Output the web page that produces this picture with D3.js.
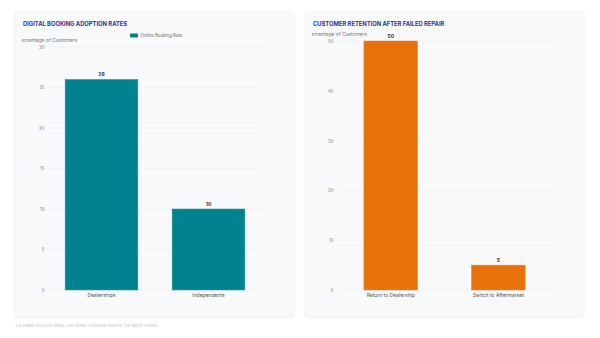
<!DOCTYPE html>
<html>
<head>
<meta charset="utf-8">
<script src="https://cdn.jsdelivr.net/npm/d3@7"></script>
<style>
  body { margin: 0; background: #fff; font-family: Inter, "Noto Sans", sans-serif; }
  svg { display: block; }
</style>
</head>
<body>
<svg id="svg" width="600" height="338"></svg>
<script>
// data
var bookingCats = ["Dealerships", "Independents"],
    bookingVals = [26, 10],
    bookingTicks = [0, 5, 10, 15, 20, 25, 30];

var retentionCats = ["Return to Dealership", "Switch to Aftermarket"],
    retentionVals = [50, 5],
    retentionTicks = [0, 10, 20, 30, 40, 50];

var svg = d3.select("#svg");

var defs = svg.append("defs");
var sh = defs.append("filter").attr("id", "shadow").attr("x", "-5%").attr("y", "-5%").attr("width", "110%").attr("height", "110%");
sh.append("feDropShadow").attr("dx", 0).attr("dy", 0.5).attr("stdDeviation", 0.8).attr("flood-color", "#000").attr("flood-opacity", 0.08);

function panel(opt) {
  var g = svg.append("g");

  // card
  g.append("rect")
    .attr("x", opt.x).attr("y", 12)
    .attr("width", 279).attr("height", 305)
    .attr("rx", 4)
    .attr("fill", "#f8f9fb")
    .attr("stroke", "#eef0f3")
    .attr("stroke-width", 0.6)
    .attr("filter", "url(#shadow)");

  g.append("text")
    .attr("x", opt.x + 8).attr("y", 25.5)
    .attr("font-size", 5.8).attr("font-weight", 700)
    .attr("fill", "#33358a")
    .text(opt.title);

  // y axis title sits partly outside the plot and gets clipped on the left
  var clipId = "clip" + opt.x;
  defs.append("clipPath").attr("id", clipId)
    .append("rect").attr("x", opt.x + 7).attr("y", 0).attr("width", 270).attr("height", 338);

  g.append("text")
    .attr("clip-path", "url(#" + clipId + ")")
    .attr("x", opt.titleEnd).attr("y", opt.axisTitleY)
    .attr("text-anchor", "end")
    .attr("font-size", 4.9)
    .attr("fill", "#777")
    .text("Percentage of Customers");

  var x = d3.scaleBand().domain(opt.cats).range([opt.x0, opt.x1])
    .paddingInner(opt.pad).paddingOuter(opt.pad / 2);
  var y = d3.scaleLinear().domain([0, d3.max(opt.ticks)]).range([290, opt.yTop]);

  // grid
  g.selectAll(".grid").data(opt.ticks).enter().append("line")
    .attr("x1", opt.x0).attr("x2", opt.x1)
    .attr("y1", function(d) { return y(d); })
    .attr("y2", function(d) { return y(d); })
    .attr("stroke", "#e9ebef").attr("stroke-width", 0.5);

  var yAxis = g.append("g")
    .attr("transform", "translate(" + opt.x0 + ",0)")
    .call(d3.axisLeft(y).tickValues(opt.ticks).tickSize(0).tickPadding(3.5));
  yAxis.select(".domain").remove();
  yAxis.selectAll("text").attr("font-size", 4.4).attr("fill", "#777").attr("font-family", "Inter, sans-serif");

  g.selectAll(".bar").data(opt.vals).enter().append("rect")
    .attr("x", function(d, i) { return x(opt.cats[i]); })
    .attr("y", function(d) { return y(d); })
    .attr("width", x.bandwidth())
    .attr("height", function(d) { return 290 - y(d); })
    .attr("fill", opt.color)
    .attr("stroke", opt.edge).attr("stroke-width", 0.5);

  g.selectAll(".val").data(opt.vals).enter().append("text")
    .attr("x", function(d, i) { return x(opt.cats[i]) + x.bandwidth() / 2; })
    .attr("y", function(d) { return y(d) - 3; })
    .attr("text-anchor", "middle")
    .attr("font-size", 5).attr("font-weight", 700)
    .attr("fill", "#333")
    .text(function(d) { return d; });

  var xAxis = g.append("g")
    .attr("transform", "translate(0,290)")
    .call(d3.axisBottom(x).tickSize(0).tickPadding(3.5));
  xAxis.select(".domain").remove();
  xAxis.selectAll("text").attr("font-size", 5).attr("fill", "#555").attr("font-family", "Inter, sans-serif");

  if (opt.legend) {
    g.append("rect").attr("x", 130).attr("y", 33.5).attr("width", 8).attr("height", 4).attr("rx", 1).attr("fill", opt.color);
    g.append("text").attr("x", 140.5).attr("y", 37.2)
      .attr("font-size", 4.4).attr("fill", "#666")
      .text(opt.legend);
  }
}

panel({
  x: 15, title: "DIGITAL BOOKING ADOPTION RATES",
  cats: bookingCats, vals: bookingVals, ticks: bookingTicks,
  x0: 48, x1: 262, yTop: 47, pad: 0.32,
  color: "#00838f", edge: "#2a9aa4",
  titleEnd: 77, axisTitleY: 41.5,
  legend: "Online Booking Rate"
});

panel({
  x: 305, title: "CUSTOMER RETENTION AFTER FAILED REPAIR",
  cats: retentionCats, vals: retentionVals, ticks: retentionTicks,
  x0: 337, x1: 552, yTop: 41, pad: 0.5,
  color: "#e8710a", edge: "#f08a35",
  titleEnd: 367, axisTitleY: 35.5
});

svg.append("text")
  .attr("x", 15).attr("y", 327)
  .attr("font-size", 3.8).attr("font-style", "italic")
  .attr("fill", "#b9bdc5")
  .text("J.D. Power 2024 CSI Study, CDK Global, Consumer Reports, Car Repair Choice");
</script>
</body>
</html>
